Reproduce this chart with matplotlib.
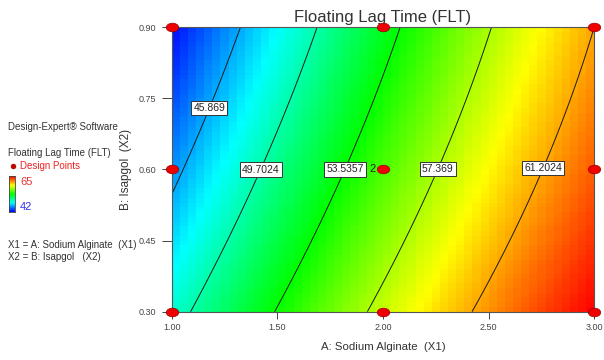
import numpy as np
import matplotlib
matplotlib.use('Agg')
import matplotlib.pyplot as plt
from matplotlib.colors import LinearSegmentedColormap
from matplotlib.path import Path
from matplotlib.transforms import Affine2D

plt.rcParams['font.family'] = ['Liberation Sans', 'DejaVu Sans']

# design points (3x3 factorial) and predicted FLT
sodium_alginate = [1.0, 2.0, 3.0]      # A (X1)
isapgol = [0.30, 0.60, 0.90]           # B (X2)
flt = [[48.8, 57.98, 65.0],            # row per isapgol level
       [45.27, 55.16, 62.91],
       [42.2, 52.77, 61.2]]
center_reps = 2

contour_levels = [45.869, 49.7024, 53.5357, 57.369, 61.2024]
label_pos = [(1.19, 0.727), (1.42, 0.60), (1.82, 0.60), (2.26, 0.60), (2.78, 0.60)]
x_ticks = [1.00, 1.50, 2.00, 2.50, 3.00]
y_ticks = [0.30, 0.45, 0.60, 0.75, 0.90]
flt_min, flt_max = 42, 65

# quadratic response surface fitted to the design points
A, B = np.meshgrid(sodium_alginate, isapgol)
a, b = (A - 2.0).ravel(), ((B - 0.6) / 0.3).ravel()
X = np.column_stack([np.ones_like(a), a, b, a * b, a**2, b**2])
coef, *_ = np.linalg.lstsq(X, np.array(flt).ravel(), rcond=None)


def model(x1, x2):
    ca, cb = x1 - 2.0, (x2 - 0.6) / 0.3
    return (coef[0] + coef[1] * ca + coef[2] * cb + coef[3] * ca * cb
            + coef[4] * ca**2 + coef[5] * cb**2)


cmap = LinearSegmentedColormap.from_list(
    'de', ['#0000ff', '#00ffff', '#00ff00', '#ffff00', '#ff0000'])

fig = plt.figure(figsize=(6.04, 3.60), dpi=100)
ax = fig.add_axes([0.2843, 0.1342, 0.6996, 0.7900])

# banded surface
xe = np.linspace(1, 3, 53)
ye = np.linspace(0.3, 0.9, 61)
xc, yc = (xe[:-1] + xe[1:]) / 2, (ye[:-1] + ye[1:]) / 2
XC, YC = np.meshgrid(xc, yc)
ax.pcolormesh(xe, ye, model(XC, YC), cmap=cmap, vmin=flt_min, vmax=flt_max,
              shading='flat')

# contours
xf = np.linspace(1, 3, 200)
yf = np.linspace(0.3, 0.9, 200)
XF, YF = np.meshgrid(xf, yf)
cs = ax.contour(XF, YF, model(XF, YF), levels=contour_levels,
                colors='#1a1a1a', linewidths=0.7)
fmt = {lv: ('%g' % lv) for lv in contour_levels}
labels = ax.clabel(cs, contour_levels, fmt=fmt, manual=label_pos,
                   inline=False, fontsize=7.5)
for t in labels:
    t.set_rotation(0)
    t.set_color('#222222')
    t.set_zorder(4)
    t.set_bbox(dict(facecolor='white', edgecolor='#333333', pad=1.5, lw=0.7))

# design points
ell = Path.unit_circle().transformed(Affine2D().scale(1.45, 1.0))
ax.plot(A.ravel(), B.ravel(), linestyle='none', marker=ell, ms=9,
        mfc='#ee0000', mec='#990000', mew=0.5, clip_on=False, zorder=5)
ax.text(1.965, 0.60, str(center_reps), ha='right', va='center',
        fontsize=8, color='#222222', zorder=6)

ax.set_xlim(1, 3)
ax.set_ylim(0.3, 0.9)
ax.set_xticks(x_ticks)
ax.set_yticks(y_ticks)
ax.set_xticklabels(['%.2f' % v for v in x_ticks])
ax.set_yticklabels(['%.2f' % v for v in y_ticks])
ax.tick_params(direction='out', width=0.7, labelsize=6.5, colors='#444444')
ax.tick_params(axis='x', length=5, pad=3)
ax.tick_params(axis='y', length=7.5, pad=3.5)
for s in ax.spines.values():
    s.set_color('#555555')
    s.set_linewidth(0.8)

ax.set_title('Floating Lag Time (FLT)', fontsize=12, color='#333333', pad=4)
ax.set_xlabel('A: Sodium Alginate  (X1)', fontsize=8.2, color='#333333',
              labelpad=7)
ax.set_ylabel('B: Isapgol  (X2)', fontsize=8.5, color='#333333', labelpad=5)


# left info panel
def ftxt(x, y, s, color='#333333', size=7):
    fig.text(x / 604, 1 - y / 360, s, va='center', ha='left',
             fontsize=size, color=color)


ftxt(8, 127, 'Design-Expert® Software')
ftxt(8, 153, 'Floating Lag Time (FLT)')
fig.lines.append(plt.Line2D([13 / 604], [1 - 166 / 360], marker='o', ms=3.5,
                            mfc='#cc0000', mec='#880000', mew=0.4,
                            transform=fig.transFigure))
ftxt(20, 166, 'Design Points', color='#ee2222')
cax = fig.add_axes([9 / 604, 1 - 212 / 360, 6 / 604, 36 / 360])
cax.imshow(np.linspace(flt_max, flt_min, 60).reshape(-1, 1), aspect='auto',
           cmap=cmap, vmin=flt_min, vmax=flt_max)
cax.set_xticks([])
cax.set_yticks([])
for s in cax.spines.values():
    s.set_color('#444444')
    s.set_linewidth(0.6)
ftxt(20, 182, str(flt_max), color='#ee3333', size=8)
ftxt(20, 207, str(flt_min), color='#3333ee', size=8)
ftxt(8, 245, 'X1 = A: Sodium Alginate  (X1)')
ftxt(8, 257, 'X2 = B: Isapgol   (X2)')

fig.savefig('out.png', dpi=100)
